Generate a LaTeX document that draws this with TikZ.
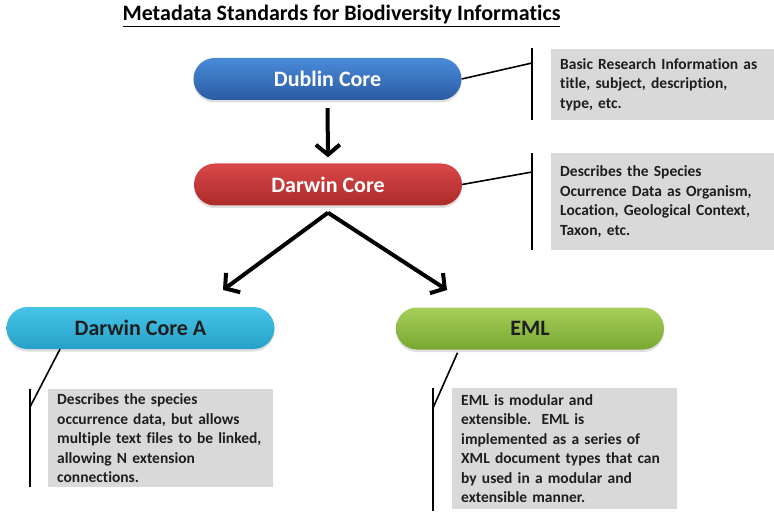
\documentclass[tikz,border=0pt]{standalone}
\usepackage{fontspec}
\setmainfont{Carlito}[Ligatures={TeX,CommonOff}]
\usepackage{xcolor}
\definecolor{cBlueTop}{HTML}{4A8AD8}
\definecolor{cBlueBot}{HTML}{2A5CA4}
\definecolor{cRedTop}{HTML}{D94848}
\definecolor{cRedBot}{HTML}{AC2A2A}
\definecolor{cCyanTop}{HTML}{48C4E8}
\definecolor{cCyanBot}{HTML}{26A0C8}
\definecolor{cGreenTop}{HTML}{A6CF58}
\definecolor{cGreenBot}{HTML}{78A832}
\definecolor{cNote}{HTML}{D9D9D9}
\definecolor{cText}{HTML}{1E1E1E}
\usepackage{tikz}
\usetikzlibrary{positioning,arrows.meta,calc,shadows}
\tikzset{
  node-std/.style={rounded corners=21pt,minimum width=268pt,minimum height=42pt,
    inner sep=0pt,font=\fontsize{22}{25}\selectfont\bfseries,
    drop shadow={opacity=0.25,shadow xshift=0pt,shadow yshift=-2.5pt}},
  node-dublin/.style={top color=cBlueTop,bottom color=cBlueBot,text=white},
  node-darwin/.style={top color=cRedTop,bottom color=cRedBot,text=white},
  node-dwca/.style={top color=cCyanTop,bottom color=cCyanBot,text=cText},
  node-eml/.style={top color=cGreenTop,bottom color=cGreenBot,text=cText},
  node-note/.style={fill=cNote,text=cText,anchor=north west,align=left,
    text width=207pt,inner xsep=9pt,inner ysep=0pt,
    font=\fontsize{15.5}{19.5}\selectfont\bfseries},
  arrow/.style={-{Straight Barb[length=10pt,width=24pt]},line width=4pt},
  leader/.style={line width=1.6pt},
  bar/.style={line width=2.2pt},
}
\frenchspacing

\begin{document}
\begin{tikzpicture}[x=1pt,y=-1pt]
  \useasboundingbox (0,0) rectangle (774,513);
  \node[font=\fontsize{22}{25}\selectfont\bfseries] (title) at (341.5,16)
    {\underline{Metadata Standards for Biodiversity Informatics}};

  % capsules
  \node[node-std,node-dublin] (dc) at (327.5,79) {Dublin Core};
  \node[node-std,node-darwin] (dwc) at (328,184.5) {Darwin Core};
  \node[node-std,node-dwca] (dca) at (140.5,328) {Darwin Core A};
  \node[node-std,node-eml] (eml) at (530,328.5) {EML};

  % notes
  \node[node-note,minimum height=71pt] (n-dc) at (551,49)
    {Basic Research Information as\\title, subject, description,\\type, etc.};
  \node[node-note,minimum height=97pt] (n-dwc) at (551,153)
    {Describes the Species\\Ocurrence Data as Organism,\\Location, Geological Context,\\Taxon, etc.};
  \node[node-note,minimum height=98pt] (n-dca) at (48,389)
    {Describes the species\\occurrence data, but allows\\multiple text files to be linked,\\allowing N extension\\connections.};
  \node[node-note,minimum height=121pt] (n-eml) at (452,388)
    {EML is modular and\\extensible.~ EML is\\implemented as a series of\\XML document types that can\\by used in a modular and\\extensible manner.};

  % arrows
  \coordinate (fork) at ($(dwc.south)+(0,7)$);
  \coordinate (tip-dca) at (223,290);
  \coordinate (tip-eml) at (447,290);
  \draw[arrow,shorten <=8pt,shorten >=6pt] (dc.south) -- (dwc.north);
  \draw[arrow] (fork) -- (tip-dca);
  \draw[arrow] (fork) -- (tip-eml);

  % bars and leaders
  \draw[bar] ($(n-dc.north west)+(-19,-1)$) -- ($(n-dc.south west)+(-19,0)$);
  \draw[leader] (dc.east) -- ($(n-dc.north west)+(-19,14)$);
  \draw[bar] ($(n-dwc.north west)+(-19,0)$) -- ($(n-dwc.south west)+(-19,0)$);
  \draw[leader] (dwc.east) -- ($(n-dwc.north west)+(-19,19)$);
  \draw[bar] ($(n-dca.north west)+(-18,0)$) -- ($(n-dca.south west)+(-18,0)$);
  \draw[leader] ($(dca.south west)!0.2!(dca.south east)$) -- ($(n-dca.north west)+(-18,18)$);
  \draw[bar] ($(n-eml.north west)+(-19,0)$) -- ($(n-eml.south west)+(-19,2)$);
  \draw[leader] ($(eml.south west)!0.23!(eml.south east)+(0,3)$) -- ($(n-eml.north west)+(-19,20)$);
\end{tikzpicture}
\end{document}
